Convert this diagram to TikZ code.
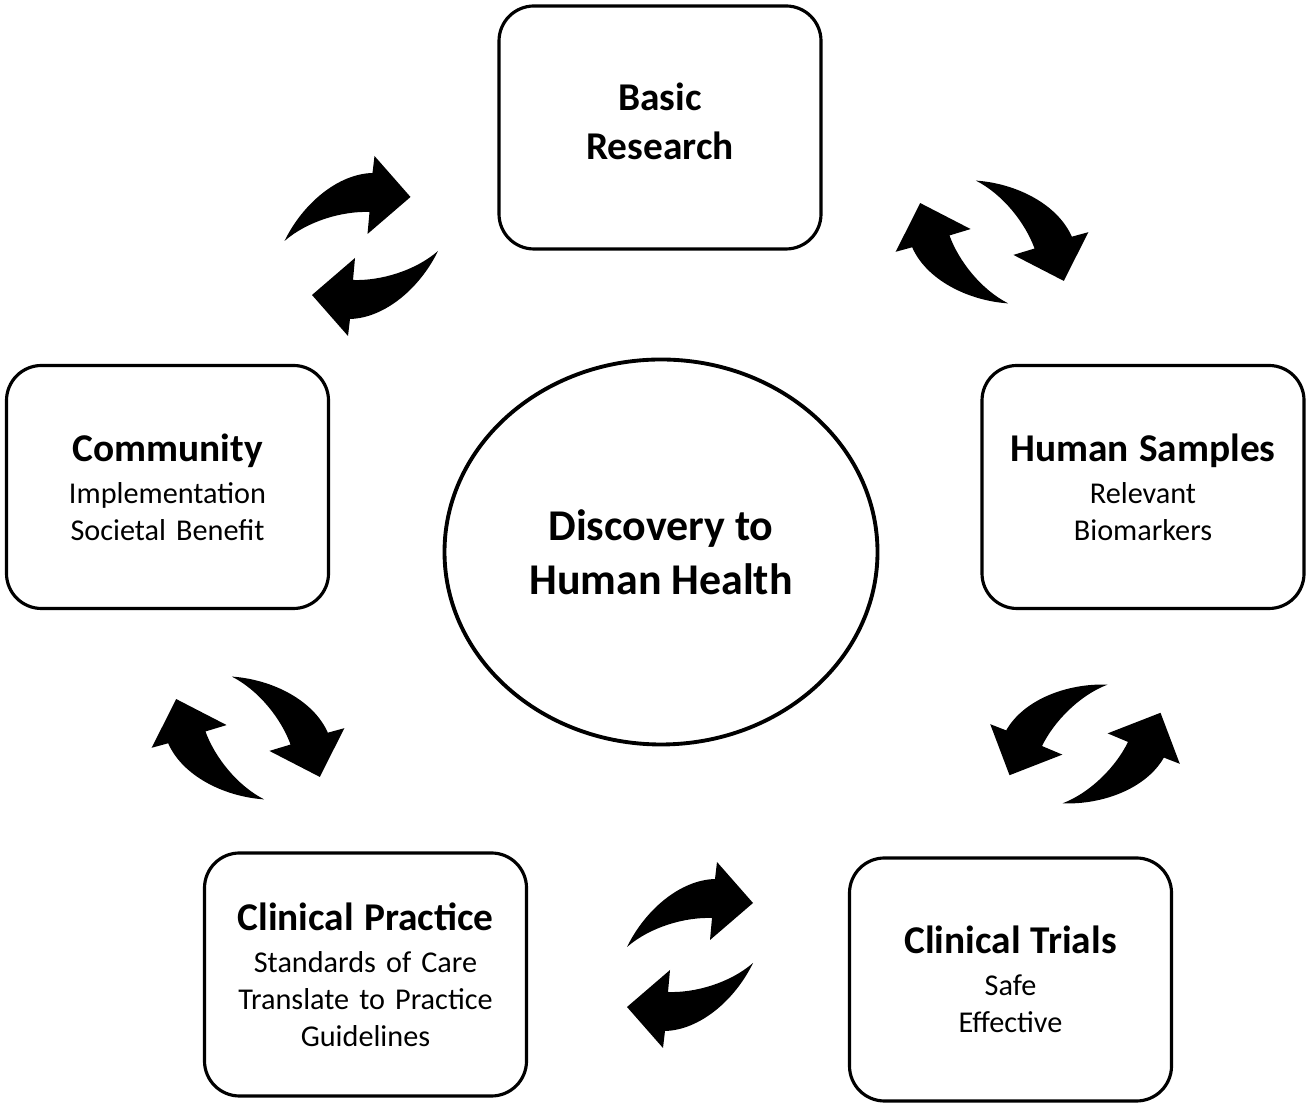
\documentclass[tikz,border=0pt]{standalone}
\usepackage{fontspec}
\setmainfont{Carlito}
\usetikzlibrary{shapes.geometric}
\def\boxhead{\fontsize{11.2}{14}\selectfont\bfseries}
\def\boxsub{\fontsize{8.6}{10.5}\selectfont\mdseries}

\tikzset{
  stage/.style={draw, line width=0.9pt, rounded corners=0.35cm,
    minimum width=3.22cm, minimum height=2.43cm, text width=3.1cm,
    align=center, inner sep=0pt, font=\boxsub},
  hub/.style={draw, ellipse, line width=1.1pt, minimum width=4.33cm,
    minimum height=3.85cm, align=center, inner sep=0pt,
    font=\fontsize{12.5}{15.3}\selectfont\bfseries},
  bent arrow/.pic={
    \fill (-0.63,0.08) .. controls (-0.45,0.45) and (-0.10,0.75) .. (0.25,0.76)
      -- (0.27,0.93) -- (0.63,0.52) -- (0.20,0.15) -- (0.22,0.37)
      .. controls (-0.05,0.38) and (-0.40,0.28) .. (-0.63,0.08) -- cycle;
  }
}

\begin{document}
\begin{tikzpicture}
    \useasboundingbox (0,0) rectangle (13.11,11.09);
    \node[stage, font=\boxhead, text depth=17.4pt] (basic) at (6.60,9.815)
      {Basic\\ Research};
    \node[stage] (community) at (1.675,6.22)
      {\boxhead Community\\[1.5pt] \boxsub Implementation\\ Societal Benefit};
    \node[stage] (samples) at (11.43,6.22)
      {\boxhead Human Samples\\[1.5pt] \boxsub Relevant\\ Biomarkers};
    \node[stage] (practice) at (3.655,1.345)
      {\boxhead Clinical Practice\\[1.5pt] \boxsub Standards of Care\\ Translate to Practice\\ Guidelines};
    \node[stage] (trials) at (10.105,1.295)
      {\boxhead Clinical Trials\\[1.5pt] \boxsub Safe\\ Effective};
    \node[hub] (health) at (6.61,5.57) {Discovery to\\ Human Health};

    % arrow pairs between the stages
    \path
    (3.475,8.60) pic {bent arrow}
    (3.75,8.66) pic[rotate=180] {bent arrow}
    (9.92,8.67) pic[rotate=-68] {bent arrow}
    (9.92,8.67) pic[rotate=112] {bent arrow}
    (2.48,3.71) pic[rotate=-68] {bent arrow}
    (2.48,3.71) pic[rotate=112] {bent arrow}
    (10.85,3.65) pic[rotate=62, xscale=-1] {bent arrow}
    (10.85,3.65) pic[rotate=242, xscale=-1] {bent arrow}
    (6.90,1.54) pic {bent arrow}
    (6.90,1.54) pic[rotate=180] {bent arrow};
  \end{tikzpicture}
\end{document}
